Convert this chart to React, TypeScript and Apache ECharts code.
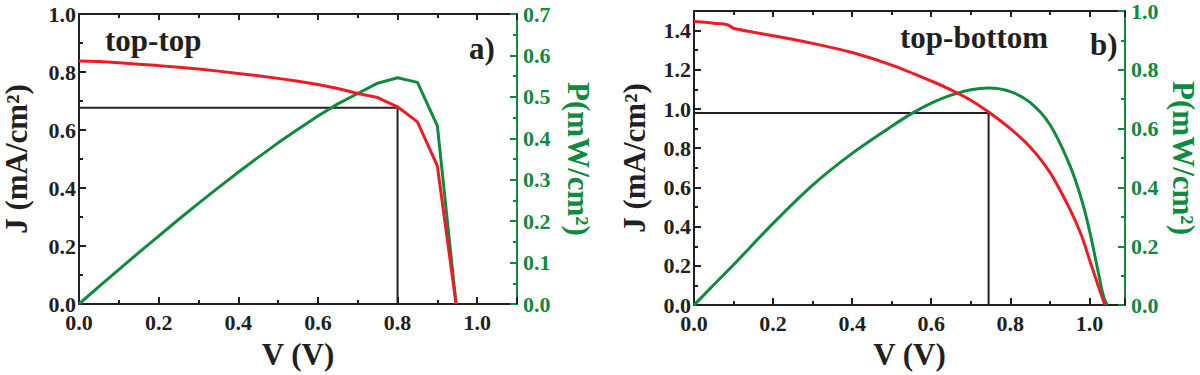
import React, { useEffect, useRef } from "react";
import * as echarts from "echarts";

// ---------- Data: panel a) top-top ----------
const voltageA = [0, 0.05, 0.1, 0.15, 0.2, 0.25, 0.3, 0.35, 0.4, 0.45, 0.5, 0.55, 0.6, 0.65, 0.7, 0.75, 0.8, 0.85, 0.9, 0.947];
const currentA = [0.838, 0.836, 0.832, 0.827, 0.822, 0.816, 0.81, 0.803, 0.795, 0.787, 0.778, 0.768, 0.757, 0.743, 0.726, 0.712, 0.68, 0.628, 0.476, 0.0];
const powerA = [0, 0.042, 0.083, 0.124, 0.164, 0.204, 0.243, 0.281, 0.318, 0.354, 0.389, 0.422, 0.454, 0.483, 0.508, 0.533, 0.546, 0.535, 0.43, 0.0];
const mppLineA_V = [0, 0.8, 0.8];
const mppLineA_J = [0.677, 0.677, 0];

// ---------- Data: panel b) top-bottom ----------
const voltageBJ = [0, 0.05, 0.085, 0.1, 0.15, 0.2, 0.3, 0.4, 0.5, 0.6, 0.65, 0.7, 0.745, 0.8, 0.85, 0.9, 0.95, 0.98, 1.0, 1.02, 1.035, 1.039];
const currentB = [1.447, 1.438, 1.43, 1.412, 1.392, 1.374, 1.335, 1.288, 1.224, 1.143, 1.098, 1.045, 0.985, 0.9, 0.806, 0.677, 0.492, 0.355, 0.233, 0.112, 0.025, 0];
const voltageBP = [0, 0.05, 0.1, 0.2, 0.3, 0.4, 0.5, 0.55, 0.6, 0.65, 0.7, 0.745, 0.8, 0.85, 0.9, 0.95, 0.98, 1.0, 1.02, 1.035, 1.045];
const powerB = [0, 0.069, 0.137, 0.278, 0.408, 0.516, 0.608, 0.651, 0.687, 0.714, 0.732, 0.738, 0.726, 0.689, 0.614, 0.477, 0.36, 0.255, 0.128, 0.033, 0];
const mppLineB_V = [0, 0.745, 0.745];
const mppLineB_J = [0.98, 0.98, 0];

const RED = "#ed1c24";
const GREEN = "#0f8a3f";
const BLACK = "#231f20";
const FONT = "Liberation Serif";

const zip = (xs: number[], ys: number[]) => xs.map((x, i) => [x, ys[i]]);

const fmt = (step: number) => (v: number) =>
  Math.abs(v / step - Math.round(v / step)) < 1e-6 ? v.toFixed(1) : "";

const labelStyle = (color: string, margin: number) => ({
  show: true,
  color,
  fontFamily: FONT,
  fontWeight: "bold" as const,
  fontSize: 22,
  margin,
});

function xAxesFor(gridIndex: number, max: number, nameGap: number) {
  const base = { type: "value", gridIndex, min: 0, max, splitLine: { show: false } };
  const tick = (len: number) => ({ show: true, inside: true, length: len, lineStyle: { color: BLACK, width: 2 } });
  return [
    {
      ...base,
      position: "bottom",
      interval: 0.2,
      axisLine: { show: true, onZero: false, lineStyle: { color: BLACK, width: 2 } },
      axisTick: tick(7),
      axisLabel: { ...labelStyle(BLACK, 7), formatter: fmt(0.2) },
      name: "V (V)",
      nameLocation: "middle",
      nameGap,
      nameTextStyle: { color: BLACK, fontFamily: FONT, fontWeight: "bold", fontSize: 31 },
    },
    {
      ...base,
      position: "bottom",
      interval: 0.1,
      axisLine: { show: false, onZero: false },
      axisTick: tick(4),
      axisLabel: { show: false },
    },
    {
      ...base,
      position: "top",
      interval: 0.2,
      axisLine: { show: true, onZero: false, lineStyle: { color: BLACK, width: 2 } },
      axisTick: tick(6),
      axisLabel: { show: false },
    },
    {
      ...base,
      position: "top",
      interval: 0.1,
      axisLine: { show: false, onZero: false },
      axisTick: tick(4),
      axisLabel: { show: false },
    },
  ];
}

function yAxesFor(
  gridIndex: number,
  jMax: number,
  pMax: number,
  pStep: number,
  pMinor: number,
  leftGap: number,
  rightGap: number
) {
  const base = { type: "value", gridIndex, min: 0, splitLine: { show: false } };
  const tick = (len: number, color: string) => ({ show: true, inside: true, length: len, lineStyle: { color, width: 2 } });
  return [
    {
      ...base,
      max: jMax,
      position: "left",
      interval: 0.2,
      axisLine: { show: true, onZero: false, lineStyle: { color: BLACK, width: 2 } },
      axisTick: tick(7, BLACK),
      axisLabel: { ...labelStyle(BLACK, 3), formatter: fmt(0.2) },
      name: "J (mA/cm²)",
      nameLocation: "middle",
      nameRotate: 90,
      nameGap: leftGap,
      nameTextStyle: { color: BLACK, fontFamily: FONT, fontWeight: "bold", fontSize: 31 },
    },
    {
      ...base,
      max: jMax,
      position: "left",
      interval: 0.1,
      axisLine: { show: false, onZero: false },
      axisTick: tick(4, BLACK),
      axisLabel: { show: false },
    },
    {
      ...base,
      max: pMax,
      position: "right",
      interval: pStep,
      axisLine: { show: true, onZero: false, lineStyle: { color: GREEN, width: 2 } },
      axisTick: tick(7, GREEN),
      axisLabel: { ...labelStyle(GREEN, 6), formatter: fmt(pStep) },
      name: "P(mW/cm²)",
      nameLocation: "middle",
      nameRotate: -90,
      nameGap: rightGap,
      nameTextStyle: { color: GREEN, fontFamily: FONT, fontWeight: "bold", fontSize: 31 },
    },
    {
      ...base,
      max: pMax,
      position: "right",
      interval: pMinor,
      axisLine: { show: false, onZero: false },
      axisTick: tick(4, GREEN),
      axisLabel: { show: false },
    },
  ];
}

function line(data: number[][], color: string, width: number, xi: number, yi: number, smooth: number | boolean, z: number) {
  return {
    type: "line",
    xAxisIndex: xi,
    yAxisIndex: yi,
    data,
    showSymbol: false,
    symbol: "none",
    smooth,
    lineStyle: { color, width },
    z,
    silent: true,
  };
}

const textEl = (text: string, x: number, y: number) => ({
  type: "text",
  x,
  y,
  style: {
    text,
    fill: BLACK,
    fontFamily: FONT,
    fontWeight: "bold",
    fontSize: 31,
    verticalAlign: "middle",
  },
});

export default function App() {
  const ref = useRef<HTMLDivElement>(null);

  useEffect(() => {
    document.body.style.margin = "0";
    if (!ref.current) return;
    const chart = echarts.init(ref.current, null, { renderer: "svg" });
    chart.setOption({
      animation: false,
      backgroundColor: "#ffffff",
      textStyle: { fontFamily: FONT },
      grid: [
        { left: 72, right: 683, top: 14, bottom: 62 },
        { left: 694, right: 70, top: 9, bottom: 65 },
      ],
      xAxis: [...xAxesFor(0, 1.1, 35), ...xAxesFor(1, 1.09, 33)],
      yAxis: [
        ...yAxesFor(0, 1.0, 0.7, 0.1, 0.05, 47, 46),
        ...yAxesFor(1, 1.5, 1.0, 0.2, 0.1, 44, 43),
      ],
      series: [
        line(zip(mppLineA_V, mppLineA_J), BLACK, 2, 0, 0, false, 1),
        line(zip(voltageA, currentA), RED, 3, 0, 0, false, 3),
        line(zip(voltageA, powerA), GREEN, 3, 0, 2, false, 2),
        line(zip(mppLineB_V, mppLineB_J), BLACK, 2, 4, 4, false, 1),
        line(zip(voltageBJ, currentB), RED, 3, 4, 4, 0.3, 3),
        line(zip(voltageBP, powerB), GREEN, 3, 4, 6, 0.3, 2),
      ],
      graphic: [
        textEl("top-top", 105, 40),
        textEl("a)", 469, 48),
        textEl("top-bottom", 900, 37),
        textEl("b)", 1090, 44),
      ],
    });
    return () => chart.dispose();
  }, []);

  return <div ref={ref} style={{ width: 1200, height: 375 }} />;
}
